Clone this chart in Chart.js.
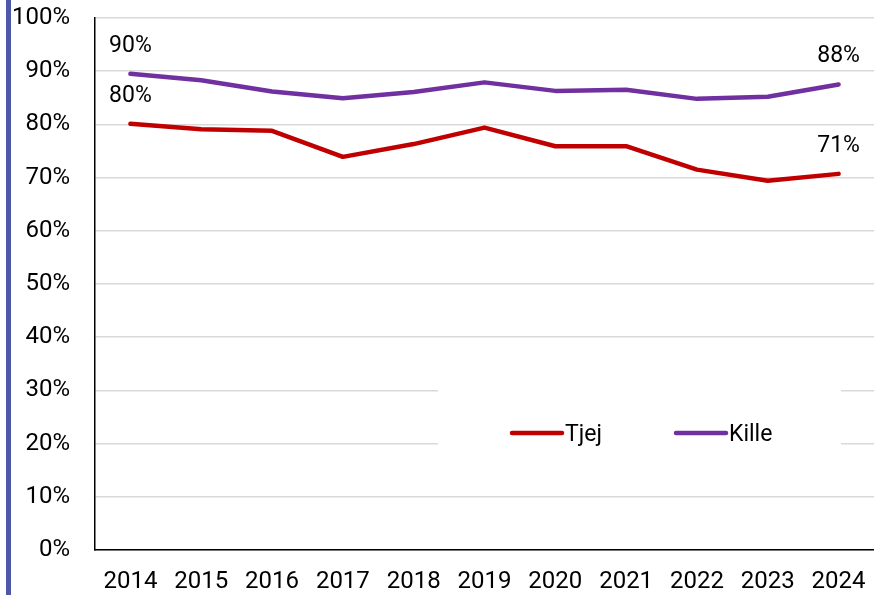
<!DOCTYPE html>
<html>
<head>
<meta charset="utf-8">
<script src="https://cdn.jsdelivr.net/npm/chart.js@4"></script>
<style>
  html, body { margin: 0; padding: 0; background: #fff; }
  #wrap { position: relative; width: 874px; height: 595px; }
  #bar { position: absolute; left: 6px; top: 0; width: 5px; height: 595px; background: #4f58a8; }
</style>
</head>
<body>
<div id="wrap">
  <canvas id="chart" width="874" height="595"></canvas>
  <div id="bar"></div>
</div>
<script>
const years = ['2014', '2015', '2016', '2017', '2018', '2019', '2020', '2021', '2022', '2023', '2024'];
const tjej = [80.1, 79.1, 78.8, 73.9, 76.3, 79.4, 75.9, 75.9, 71.5, 69.4, 70.7];
const kille = [89.5, 88.3, 86.2, 84.9, 86.1, 87.9, 86.3, 86.5, 84.8, 85.2, 87.5];
const seriesNames = ['Tjej', 'Kille'];
const seriesColors = ['#c00000', '#7030a0'];

const FONT = 'Roboto, "Liberation Sans", sans-serif';

// etiketter vid första och sista punkten
const endLabels = {
    id: 'endLabels',
    afterDatasetsDraw(chart) {
        const ctx = chart.ctx;
        ctx.save();
        ctx.font = `23px ${FONT}`;
        ctx.fillStyle = '#000';
        ctx.textAlign = 'center';
        ctx.textBaseline = 'middle';
        chart.data.datasets.forEach((ds, i) => {
            const meta = chart.getDatasetMeta(i);
            [0, ds.data.length - 1].forEach(idx => {
                const pt = meta.data[idx];
                ctx.fillText(Math.round(ds.data[idx]) + '%', pt.x, pt.y - 28);
            });
        });
        ctx.restore();
    }
};

// legend inne i diagrammet med vit bakgrund
const innerLegend = {
    id: 'innerLegend',
    beforeDatasetsDraw(chart) {
        const { ctx, scales } = chart;
        const y = scales.y.getPixelForValue(22);
        ctx.save();
        ctx.fillStyle = '#fff';
        ctx.fillRect(438, scales.y.getPixelForValue(35), 403, scales.y.getPixelForValue(15) - scales.y.getPixelForValue(35));
        ctx.font = `23px ${FONT}`;
        ctx.textBaseline = 'middle';
        ctx.lineCap = 'round';
        ctx.lineWidth = 4.5;
        const starts = [512, 676];
        chart.data.datasets.forEach((ds, i) => {
            const x = starts[i];
            ctx.strokeStyle = ds.borderColor;
            ctx.beginPath();
            ctx.moveTo(x, y);
            ctx.lineTo(x + 50, y);
            ctx.stroke();
            ctx.fillStyle = '#000';
            ctx.fillText(ds.label, x + 53, y + 2);
        });
        ctx.restore();
    }
};

new Chart(document.getElementById('chart'), {
    type: 'line',
    data: {
        labels: years,
        datasets: [
            { label: seriesNames[0], data: tjej, borderColor: seriesColors[0], backgroundColor: seriesColors[0] },
            { label: seriesNames[1], data: kille, borderColor: seriesColors[1], backgroundColor: seriesColors[1] }
        ]
    },
    options: {
        responsive: false,
        animation: false,
        layout: { padding: { top: 18, right: 0, left: 0, bottom: 0 } },
        elements: {
            line: { borderWidth: 4.5, tension: 0, borderCapStyle: 'round', borderJoinStyle: 'round' },
            point: { radius: 0 }
        },
        plugins: {
            legend: { display: false },
            tooltip: { enabled: false }
        },
        scales: {
            x: {
                offset: true,
                grid: { display: false, drawTicks: false },
                border: { color: '#000', width: 1.5 },
                ticks: { color: '#000', font: { family: FONT, size: 24 }, padding: 18, maxRotation: 0 },
                afterFit(scale) {
                    scale.height = 45;
                    scale.paddingLeft = 0;
                    scale.paddingRight = 0;
                }
            },
            y: {
                min: 0,
                max: 100,
                grid: { color: '#d9d9d9', lineWidth: 1.5, drawTicks: false },
                border: { color: '#000', width: 1.5 },
                ticks: { stepSize: 10, color: '#000', font: { family: FONT, size: 24 }, padding: 25, callback: v => v + '%' },
                afterFit(scale) {
                    scale.width = 95;
                    scale.paddingTop = 0;
                    scale.paddingBottom = 0;
                }
            }
        }
    },
    plugins: [innerLegend, endLabels]
});
</script>
</body>
</html>
